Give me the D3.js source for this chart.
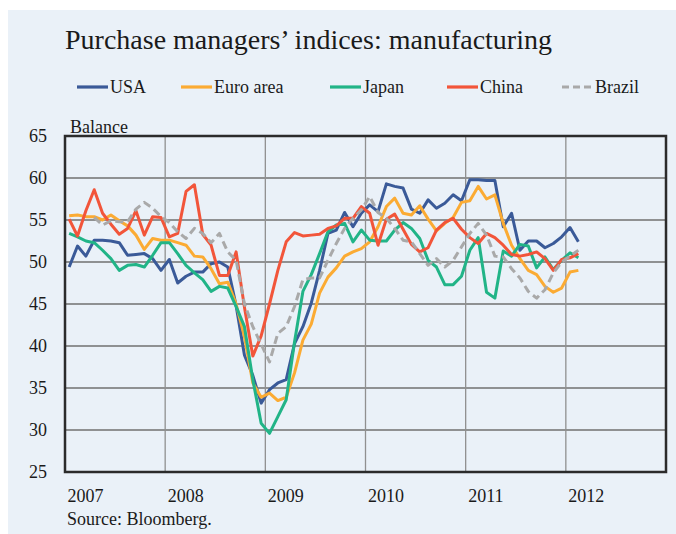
<!DOCTYPE html>
<html><head><meta charset="utf-8">
<script src="https://cdn.jsdelivr.net/npm/d3@7"></script>
<style>
body{margin:0;background:#fff}
svg{display:block}
text{font-family:"Liberation Serif","Times New Roman",serif;fill:#1a1a1a}
</style>
</head><body>
<svg id="chart" width="676" height="534"></svg>
<script>
// ---- data (monthly, Jan 2007 – Feb 2012) ----
const yearLabels = ["2007","2008","2009","2010","2011","2012"];
const yTicks = [25,30,35,40,45,50,55,60,65];
const seriesNames = ["USA","Euro area","Japan","China","Brazil"];
const usa = [
 49.4,51.9,50.7,52.6,52.6,52.5,52.3,50.8,50.9,51.0,50.4,49.0,
 50.3,47.5,48.3,48.8,48.8,49.8,50.0,49.4,44.8,38.9,36.5,33.2,
 34.8,35.6,36.0,40.3,42.3,45.1,49.0,53.4,53.8,55.9,54.2,55.8,
 56.8,56.0,59.3,59.0,58.8,56.3,55.8,57.4,56.4,57.0,58.0,57.3,
 59.8,59.8,59.7,59.7,54.2,55.8,51.4,52.5,52.5,51.7,52.2,53.0,
 54.1,52.4];
const euro = [
 55.5,55.6,55.4,55.4,55.0,55.6,54.9,54.3,53.2,51.5,52.8,52.6,
 52.6,52.3,52.0,50.7,50.6,49.2,47.4,47.6,45.0,41.1,35.6,33.9,
 34.4,33.5,33.9,36.8,40.7,42.6,46.3,48.2,49.3,50.7,51.2,51.6,
 52.4,54.2,56.6,57.6,55.8,55.6,56.7,55.1,53.7,54.6,55.3,57.1,
 57.3,59.0,57.5,58.0,54.6,52.0,50.4,49.0,48.5,47.1,46.4,46.9,
 48.8,49.0];
const japan = [
 53.4,53.0,52.5,52.3,51.4,50.4,49.0,49.6,49.7,49.4,50.8,52.3,
 52.3,51.0,49.6,48.7,47.9,46.5,47.1,46.9,44.7,42.3,36.0,30.8,
 29.6,31.6,33.6,40.5,46.5,48.5,51.0,53.6,54.4,54.6,52.4,53.8,
 52.6,52.5,52.5,53.8,54.7,54.0,52.8,50.2,49.4,47.3,47.3,48.3,
 51.4,52.9,46.4,45.7,51.3,50.7,52.1,51.9,49.3,50.6,49.1,50.2,
 51.1,50.5];
const china = [
 55.1,53.1,56.1,58.6,55.8,54.5,53.3,54.0,56.1,53.2,55.4,55.3,
 53.0,53.4,58.4,59.2,53.3,52.0,48.4,48.4,51.2,44.6,38.8,41.2,
 45.0,49.0,52.4,53.5,53.1,53.2,53.3,54.0,54.3,55.2,55.2,56.6,
 55.8,52.0,55.1,55.7,53.9,52.1,51.2,51.7,53.8,54.7,55.2,53.9,
 52.9,52.2,53.4,52.9,52.0,50.9,50.7,50.9,51.2,50.4,49.0,50.3,
 50.5,51.0];
const brazil = [
 null,null,null,55.3,54.4,54.9,54.8,54.8,56.3,57.1,56.4,55.4,
 54.7,53.6,52.8,54.0,53.4,52.3,53.4,51.2,50.2,45.0,42.3,40.2,
 38.1,41.5,42.3,44.7,47.9,48.1,48.1,50.2,52.2,54.0,55.2,56.2,
 57.8,55.9,55.2,54.0,52.6,52.4,51.0,49.6,50.4,49.4,50.2,51.8,
 53.4,54.6,53.2,50.7,50.6,49.2,48.1,46.5,45.7,46.7,48.7,50.0,
 50.7,51.4];

// ---- styles ----
const colors = ["#3a5a98","#fbab33","#21b487","#f2553a","#a9a9a9"];
const seriesData = [usa, euro, japan, china, brazil];

const svg = d3.select("#chart");
const W = 676, H = 534;
const plot = {left:65, right:666, top:136, bottom:472};

// background panel
svg.append("rect").attr("x",0).attr("y",0).attr("width",W).attr("height",H).attr("fill","#ffffff");
svg.append("rect").attr("x",8).attr("y",10).attr("width",W-8).attr("height",H-10).attr("fill","#eaf1f8");

// scales: month index 0..72 spans Jan 2007 – Jan 2013
const x = d3.scaleLinear().domain([0, 72]).range([plot.left, plot.right]);
const y = d3.scaleLinear().domain([25, 65]).range([plot.bottom, plot.top]);

// title
svg.append("text").attr("x",65).attr("y",49).attr("font-size",28)
  .text("Purchase managers’ indices: manufacturing");

// legend
const legendX = [77, 181, 330, 447, 562];
const lg = svg.append("g");
seriesNames.forEach((n,i)=>{
  lg.append("line").attr("x1",legendX[i]).attr("x2",legendX[i]+31)
    .attr("y1",87).attr("y2",87).attr("stroke",colors[i]).attr("stroke-width",3.2)
    .attr("stroke-dasharray", i===4 ? "7,4" : null);
  lg.append("text").attr("x",legendX[i]+33).attr("y",93).attr("font-size",18).text(n);
});

// "Balance" label
svg.append("text").attr("x",70).attr("y",133).attr("font-size",18).text("Balance");

// gridlines
const grid = svg.append("g");
yTicks.filter(t=>t>25 && t<65).forEach(t=>{
  grid.append("line").attr("x1",plot.left).attr("x2",plot.right)
    .attr("y1",y(t)).attr("y2",y(t)).attr("stroke","#707070").attr("stroke-width",1.3);
});
yearLabels.forEach((lab,i)=>{
  if(i===0) return;
  grid.append("line").attr("x1",x(i*12)).attr("x2",x(i*12))
    .attr("y1",plot.top).attr("y2",plot.bottom).attr("stroke","#909090").attr("stroke-width",1.3);
});

// y axis labels
const yAxis = d3.axisLeft(y).tickValues(yTicks).tickSize(0).tickPadding(0).tickFormat(d3.format("d"));
const yg = svg.append("g").attr("transform",`translate(47,0)`).call(yAxis);
yg.select(".domain").remove();
yg.selectAll("text").attr("font-size",18).attr("font-family","Liberation Serif, serif").attr("fill","#1a1a1a");

// x axis labels
const xAxis = d3.axisBottom(x).tickValues(yearLabels.map((d,i)=>i*12)).tickSize(0)
  .tickFormat((d,i)=>yearLabels[i]);
const xg = svg.append("g").attr("transform",`translate(0,${plot.bottom})`).call(xAxis);
xg.select(".domain").remove();
xg.selectAll("text").attr("font-size",18).attr("font-family","Liberation Serif, serif")
  .attr("fill","#1a1a1a").attr("text-anchor","start").attr("dx",2).attr("y",30).attr("dy",0);

// series lines (points at mid-month)
const line = d3.line()
  .defined(d=>d!=null)
  .x((d,i)=>x(i+0.5))
  .y(d=>y(d));
const lines = svg.append("g");
seriesData.forEach((arr,k)=>{
  lines.append("path").datum(arr)
    .attr("d",line)
    .attr("fill","none")
    .attr("stroke",colors[k])
    .attr("stroke-width",3)
    .attr("stroke-linejoin","round")
    .attr("stroke-dasharray", k===4 ? "8,4.5" : null);
});

// plot frame
svg.append("rect").attr("x",plot.left).attr("y",plot.top)
  .attr("width",plot.right-plot.left).attr("height",plot.bottom-plot.top)
  .attr("fill","none").attr("stroke","#2b2b2b").attr("stroke-width",2.5);

// source
svg.append("text").attr("x",67).attr("y",525).attr("font-size",18).text("Source: Bloomberg.");
</script>
</body></html>
